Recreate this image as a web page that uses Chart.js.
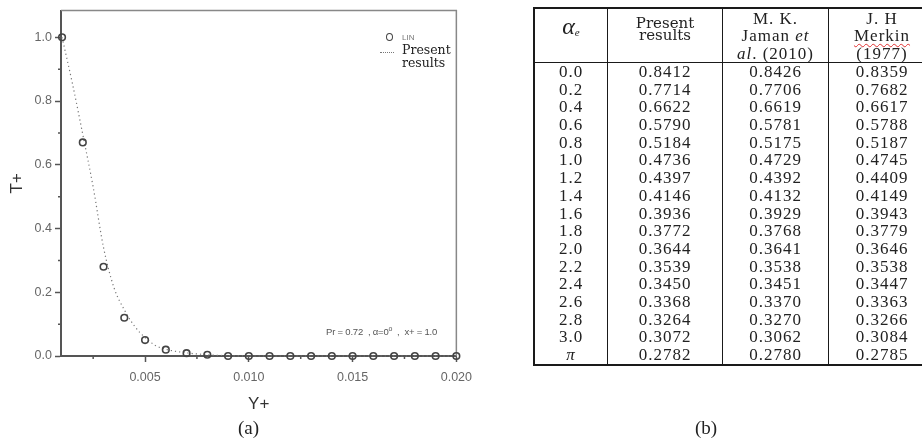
<!DOCTYPE html>
<html>
<head>
<meta charset="utf-8">
<script src="https://cdn.jsdelivr.net/npm/chart.js@4.4.1/dist/chart.umd.min.js"></script>
<style>
  html, body { margin: 0; padding: 0; background: #fff; }
  body { width: 922px; height: 441px; position: relative; overflow: hidden; }
  #plot { position: absolute; left: 0; top: 0; width: 480px; height: 441px; }
  .txt { position: absolute; white-space: nowrap; }
  .cap { font-family: 'Liberation Serif', 'Times New Roman', serif; font-size: 19px; color: #222; }
  #lin-mark { position: absolute; left: 386px; top: 33px; width: 5px; height: 6px; border: 1.6px solid #444; border-radius: 50%; }
  #lin-label { left: 402px; top: 33px; font: 8px 'Liberation Sans', Arial, sans-serif; color: #777; }
  #pr-mark { position: absolute; left: 380px; top: 52px; width: 14px; border-top: 1.3px dotted #777; }
  #pr-label { left: 402px; top: 43px; font: 12.5px/13px 'DejaVu Serif', serif; color: #222; }
  #note { left: 326px; top: 325px; font: 9.5px 'Liberation Sans', Arial, sans-serif; letter-spacing: -0.2px; color: #555; }

  #tbl { position: absolute; left: 533px; top: 7px; border-collapse: separate; border-spacing: 0;
         border: 2px solid #1a1a1a; table-layout: fixed; width: 400px;
         font-family: 'Liberation Serif', 'Times New Roman', serif; font-size: 17px; letter-spacing: 1px; color: #222; }
  #tbl th, #tbl td { padding: 0; text-align: center; border-right: 1.5px solid #1a1a1a; }
  #tbl th:last-child, #tbl td:last-child { border-right: none; }
  #tbl th { font-weight: normal; vertical-align: top; height: 52px; box-sizing: border-box; padding-top: 1px;
            border-bottom: 1.5px solid #1a1a1a; line-height: 17.3px; overflow: hidden; }
  #tbl td { height: 17.7px; line-height: 17.7px; }
  #tbl th.alpha { font-style: italic; font-size: 24px; line-height: 24px; padding-top: 5px; letter-spacing: 0; }
  #tbl th.alpha sub { font-size: 11px; line-height: 0; vertical-align: -2px; }
  #tbl th.pres { font-family: 'DejaVu Serif', serif; font-size: 15px; line-height: 12px; padding-top: 8px; letter-spacing: 0; }
  .wavy { text-decoration: underline wavy #e03030; text-decoration-thickness: 1px; text-underline-offset: 2px; }
</style>
</head>
<body>
<div id="plot"><canvas id="chart" width="480" height="441"></canvas></div>

<div id="lin-mark"></div>
<div class="txt" id="lin-label">LIN</div>
<div id="pr-mark"></div>
<div class="txt" id="pr-label">Present<br>results</div>
<div class="txt" id="note">Pr = 0.72 &nbsp;, α=0<sup style="font-size:7px">o</sup> &nbsp;, &nbsp;x+ = 1.0</div>
<div class="txt cap" style="left:238px; top:417px;">(a)</div>
<div class="txt cap" style="left:695px; top:417px;">(b)</div>

<table id="tbl">
  <colgroup>
    <col style="width:73px"><col style="width:115px"><col style="width:106px"><col style="width:106px">
  </colgroup>
  <thead>
    <tr>
      <th class="alpha">α<sub>e</sub></th>
      <th class="pres">Present<br>results</th>
      <th>M. K.<br>Jaman <i>et</i><br><i>al</i>. (2010)</th>
      <th>J. H<br><span class="wavy">Merkin</span><br>(1977)</th>
    </tr>
  </thead>
  <tbody id="tbody"></tbody>
</table>

<script>
// curve (dotted line) — Present results
const curveY = [0.001, 0.0015, 0.002, 0.0025, 0.003, 0.0035, 0.004, 0.0045, 0.005, 0.0055, 0.006, 0.007, 0.008, 0.009, 0.010, 0.012, 0.014, 0.016, 0.018, 0.020];
const curveT = [1.0, 0.855, 0.695, 0.53, 0.34, 0.215, 0.145, 0.093, 0.058, 0.033, 0.021, 0.01, 0.004, 0.001, 0, 0, 0, 0, 0, 0];

// circles — LIN
const linY = [0.001, 0.002, 0.003, 0.004, 0.005, 0.006, 0.007, 0.008, 0.009, 0.010, 0.011, 0.012, 0.013, 0.014, 0.015, 0.016, 0.017, 0.018, 0.019, 0.020];
const linT = [1.0, 0.67, 0.28, 0.12, 0.05, 0.02, 0.009, 0.004, 0, 0, 0, 0, 0, 0, 0, 0, 0, 0, 0, 0];

// axis ticks
const xTicks = [0.005, 0.010, 0.015, 0.020];
const xMinor = [0.0025, 0.0075, 0.0125, 0.0175];
const yTicks = [0.0, 0.2, 0.4, 0.6, 0.8, 1.0];
const yMinor = [0.1, 0.3, 0.5, 0.7, 0.9];

// table (b)
const alphaE = ['0.0', '0.2', '0.4', '0.6', '0.8', '1.0', '1.2', '1.4', '1.6', '1.8', '2.0', '2.2', '2.4', '2.6', '2.8', '3.0', 'π'];
const presentResults = ['0.8412', '0.7714', '0.6622', '0.5790', '0.5184', '0.4736', '0.4397', '0.4146', '0.3936', '0.3772', '0.3644', '0.3539', '0.3450', '0.3368', '0.3264', '0.3072', '0.2782'];
const jaman2010 = ['0.8426', '0.7706', '0.6619', '0.5781', '0.5175', '0.4729', '0.4392', '0.4132', '0.3929', '0.3768', '0.3641', '0.3538', '0.3451', '0.3370', '0.3270', '0.3062', '0.2780'];
const merkin1977 = ['0.8359', '0.7682', '0.6617', '0.5788', '0.5187', '0.4745', '0.4409', '0.4149', '0.3943', '0.3779', '0.3646', '0.3538', '0.3447', '0.3363', '0.3266', '0.3084', '0.2785'];

document.getElementById('tbody').innerHTML = alphaE.map((a, i) => `
  <tr>
    <td>${a === 'π' ? '<i>π</i>' : a}</td>
    <td>${presentResults[i]}</td>
    <td>${jaman2010[i]}</td>
    <td>${merkin1977[i]}</td>
  </tr>`).join('');

const tickFont = { family: "'Liberation Sans Narrow', 'Liberation Sans', Arial, sans-serif", size: 12.5 };
const axisColor = '#555';

// box around the plot + short minor ticks
const framePlugin = {
  id: 'frame',
  beforeDatasetsDraw(chart) {
    const { ctx, chartArea: a } = chart;
    ctx.save();
    ctx.strokeStyle = '#888';
    ctx.lineWidth = 1.5;
    ctx.beginPath();
    ctx.moveTo(a.left, a.top);
    ctx.lineTo(a.right, a.top);
    ctx.lineTo(a.right, a.bottom);
    ctx.stroke();
    ctx.restore();
  },
  afterDraw(chart) {
    const { ctx, chartArea: a, scales } = chart;
    ctx.save();
    ctx.strokeStyle = axisColor;
    ctx.lineWidth = 1.5;
    ctx.beginPath();
    xMinor.forEach(v => {
      const px = scales.x.getPixelForValue(v);
      ctx.moveTo(px, a.bottom);
      ctx.lineTo(px, a.bottom + 3);
    });
    yMinor.forEach(v => {
      const py = scales.y.getPixelForValue(v);
      ctx.moveTo(a.left, py);
      ctx.lineTo(a.left - 3, py);
    });
    ctx.stroke();
    ctx.restore();
  }
};

new Chart(document.getElementById('chart'), {
  type: 'scatter',
  data: {
    datasets: [
      {
        label: 'LIN',
        data: linY.map((y, i) => ({ x: y, y: linT[i] })),
        pointStyle: 'circle',
        pointRadius: 3.3,
        pointBorderWidth: 1.6,
        pointBorderColor: '#444',
        pointBackgroundColor: 'rgba(255,255,255,0)',
        showLine: false,
        clip: false,
        order: 0
      },
      {
        label: 'Present results',
        type: 'line',
        data: curveY.map((y, i) => ({ x: y, y: curveT[i] })),
        borderColor: '#777',
        borderWidth: 1.2,
        borderDash: [1.2, 3],
        cubicInterpolationMode: 'monotone',
        pointRadius: 0,
        fill: false,
        clip: false,
        order: 1
      }
    ]
  },
  options: {
    responsive: false,
    animation: false,
    devicePixelRatio: 1,
    layout: { padding: { left: 0, top: 8, right: 15, bottom: 25 } },
    plugins: { legend: { display: false }, tooltip: { enabled: false } },
    scales: {
      x: {
        type: 'linear',
        min: 0.00095,
        max: 0.0200,
        afterBuildTicks: s => { s.ticks = xTicks.map(v => ({ value: v })); },
        afterFit: s => { s.height = 60; },
        ticks: { callback: v => v.toFixed(3), font: tickFont, color: '#666', padding: 8, maxRotation: 0, autoSkip: false },
        grid: { drawOnChartArea: false, drawTicks: true, tickLength: 6, tickColor: axisColor, tickWidth: 1.5 },
        border: { color: axisColor, width: 2 },
        title: { display: true, text: 'Y+', color: '#333', font: { family: "'Liberation Sans', Arial, sans-serif", size: 17 }, padding: { top: 0, bottom: 1 } }
      },
      y: {
        type: 'linear',
        min: 0,
        max: 1.084,
        afterBuildTicks: s => { s.ticks = yTicks.map(v => ({ value: v })); },
        afterFit: s => { s.width = 61; },
        ticks: { callback: v => v.toFixed(1), font: tickFont, color: '#666', padding: 3, autoSkip: false },
        grid: { drawOnChartArea: false, drawTicks: true, tickLength: 6, tickColor: axisColor, tickWidth: 1.5 },
        border: { color: axisColor, width: 2 },
        title: { display: true, text: 'T+', color: '#333', font: { family: "'Liberation Sans', Arial, sans-serif", size: 17 }, padding: { top: 7, bottom: 0 } }
      }
    }
  },
  plugins: [framePlugin]
});
</script>
</body>
</html>
